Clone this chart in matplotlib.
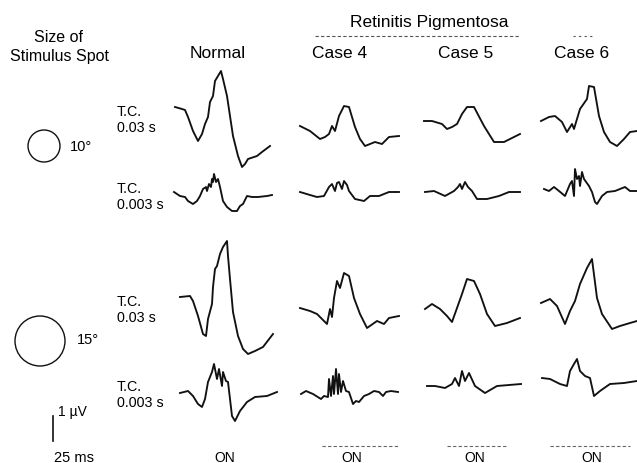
import matplotlib
matplotlib.use("Agg")
import matplotlib.pyplot as plt
from matplotlib.patches import Circle

plt.rcParams["font.family"] = ["Liberation Sans", "DejaVu Sans"]

# ERG traces: time (ms from sweep start) and amplitude (uV)
normal_10_slow_t = [5, 12, 15, 18, 23, 28, 32, 35, 38, 40, 43, 45, 48, 51, 53, 57, 60, 63, 68, 72, 75, 78, 87, 92, 100]
normal_10_slow_v = [0.68, 0.60, 0.56, 0.28, -0.28, -0.68, -0.40, 0.0, 0.28, 0.88, 1.12, 1.72, 1.92, 2.12, 1.80, 1.12,
                    0.32, -0.48, -1.28, -1.72, -1.60, -1.40, -1.28, -1.12, -0.88]
normal_10_fast_t = [4, 10, 15, 18, 23, 27, 30, 33, 36, 37, 39, 41, 42, 43, 44, 46, 48, 50, 53, 57, 62, 67, 70, 73, 77,
                    82, 88, 97, 102]
normal_10_fast_v = [0.08, -0.08, -0.12, -0.28, -0.4, -0.28, -0.08, 0.2, 0.28, 0.12, 0.4, 0.28, 0.6, 0.48, 0.8, 0.48,
                    0.6, 0.28, -0.28, -0.52, -0.68, -0.68, -0.48, -0.4, -0.08, -0.12, -0.12, -0.08, -0.04]
normal_15_slow_t = [10, 20, 23, 28, 33, 36, 38, 42, 43, 45, 47, 50, 53, 57, 58, 60, 63, 68, 73, 78, 85, 93, 103]
normal_15_slow_v = [0.56, 0.6, 0.4, -0.2, -0.92, -1.0, -0.32, 0.28, 0.96, 1.68, 1.8, 2.28, 2.56, 2.8, 2.2, 1.28, -0.04,
                    -1.0, -1.52, -1.72, -1.6, -1.44, -0.92]
normal_15_fast_t = [10, 18, 23, 28, 32, 35, 38, 42, 44, 47, 49, 52, 53, 56, 58, 62, 65, 70, 77, 85, 97, 107]
normal_15_fast_v = [-0.16, -0.08, -0.28, -0.6, -0.72, -0.4, 0.28, 0.68, 1.0, 0.4, 0.8, 0.12, 0.68, 0.32, 0.28, -1.08,
                    -1.28, -0.88, -0.52, -0.32, -0.28, -0.12]

case4_10_slow_t = [4, 14, 24, 29, 33, 36, 39, 43, 48, 53, 59, 64, 69, 79, 86, 93, 103]
case4_10_slow_v = [-0.08, -0.28, -0.6, -0.52, -0.4, -0.08, -0.28, 0.32, 0.72, 0.68, -0.12, -0.6, -0.88, -0.72, -0.8,
                   -0.52, -0.48]
case4_10_fast_t = [4, 14, 21, 28, 33, 36, 39, 41, 43, 46, 48, 51, 53, 59, 68, 74, 83, 93, 103]
case4_10_fast_v = [0.08, -0.04, -0.12, -0.08, 0.28, 0.4, 0.12, 0.44, 0.48, 0.2, 0.52, 0.36, 0.12, -0.2, -0.28, -0.08,
                   -0.08, 0.08, 0.08]
case4_15_slow_t = [4, 14, 21, 31, 34, 36, 38, 41, 44, 48, 53, 58, 64, 71, 81, 88, 93, 103]
case4_15_slow_v = [0.12, 0.0, -0.12, -0.52, 0.08, -0.24, 0.52, 1.2, 0.92, 1.52, 1.4, 0.52, -0.12, -0.68, -0.4, -0.52,
                   -0.28, -0.2]
case4_15_fast_t = [5, 10, 17, 25, 28, 32, 33, 35, 37, 38, 40, 42, 43, 45, 47, 50, 53, 57, 60, 63, 68, 73, 78, 83, 87,
                   90, 95, 102]
case4_15_fast_v = [-0.2, -0.08, -0.2, -0.4, -0.28, -0.32, 0.4, -0.28, 0.52, -0.2, 0.8, -0.2, 0.6, -0.12, 0.32, -0.08,
                   -0.12, -0.6, -0.48, -0.52, -0.28, -0.2, -0.08, -0.12, -0.28, -0.12, -0.08, -0.12]

case5_10_slow_t = [4, 12, 22, 27, 32, 37, 42, 47, 54, 64, 74, 84, 100]
case5_10_slow_v = [0.12, 0.12, 0.0, -0.2, -0.12, 0.0, 0.4, 0.68, 0.68, -0.08, -0.72, -0.72, -0.4]
case5_10_fast_t = [5, 14, 25, 34, 38, 40, 42, 45, 48, 52, 57, 67, 79, 89, 100]
case5_10_fast_v = [0.08, 0.12, -0.08, 0.12, 0.28, 0.4, 0.2, 0.48, 0.28, 0.12, -0.2, -0.2, -0.08, 0.08, 0.08]
case5_15_slow_t = [5, 12, 20, 27, 32, 37, 42, 47, 54, 60, 67, 75, 87, 100]
case5_15_slow_v = [0.08, 0.28, 0.08, -0.2, -0.44, 0.12, 0.68, 1.28, 1.2, 0.68, -0.12, -0.6, -0.48, -0.28]
case5_15_fast_t = [7, 15, 25, 32, 35, 39, 42, 45, 49, 55, 65, 77, 89, 101]
case5_15_fast_v = [0.12, 0.12, 0.04, 0.2, 0.44, 0.12, 0.72, 0.32, 0.64, 0.12, -0.16, 0.12, 0.16, 0.2]

case6_10_slow_t = [4, 12, 18, 25, 30, 35, 37, 43, 50, 52, 57, 62, 67, 73, 80, 87, 93, 100]
case6_10_slow_v = [0.12, 0.28, 0.32, 0.08, -0.32, 0.0, -0.2, 0.6, 1.0, 1.52, 1.48, 0.32, -0.32, -0.72, -0.88, -0.6,
                   -0.32, -0.28]
case6_10_fast_t = [7, 12, 17, 22, 28, 33, 35, 37, 38, 40, 42, 43, 45, 47, 52, 55, 58, 60, 65, 70, 78, 83, 88, 93, 100]
case6_10_fast_v = [0.2, 0.12, 0.28, 0.12, -0.08, 0.4, 0.52, -0.08, 1.0, 0.6, 0.72, 0.32, 0.88, 0.6, 0.32, 0.08, -0.32,
                   -0.4, -0.08, 0.08, 0.12, 0.2, 0.28, 0.12, 0.12]
case6_15_slow_t = [4, 13, 20, 28, 33, 38, 43, 50, 55, 60, 65, 75, 83, 93, 100]
case6_15_slow_v = [0.32, 0.48, 0.2, -0.52, 0.0, 0.4, 1.08, 1.72, 2.08, 0.52, -0.12, -0.72, -0.6, -0.48, -0.4]
case6_15_fast_t = [5, 13, 23, 30, 33, 37, 40, 43, 48, 53, 57, 63, 73, 87, 100]
case6_15_fast_v = [0.44, 0.4, 0.2, 0.12, 0.72, 1.0, 1.2, 0.72, 0.52, 0.44, -0.28, -0.08, 0.2, 0.24, 0.32]

column_titles = ["Normal", "Case 4", "Case 5", "Case 6"]
spot_labels = ["10°", "15°"]
tc_labels = ["T.C.\n0.03 s", "T.C.\n0.003 s", "T.C.\n0.03 s", "T.C.\n0.003 s"]

traces = [
    [(normal_10_slow_t, normal_10_slow_v), (case4_10_slow_t, case4_10_slow_v),
     (case5_10_slow_t, case5_10_slow_v), (case6_10_slow_t, case6_10_slow_v)],
    [(normal_10_fast_t, normal_10_fast_v), (case4_10_fast_t, case4_10_fast_v),
     (case5_10_fast_t, case5_10_fast_v), (case6_10_fast_t, case6_10_fast_v)],
    [(normal_15_slow_t, normal_15_slow_v), (case4_15_slow_t, case4_15_slow_v),
     (case5_15_slow_t, case5_15_slow_v), (case6_15_slow_t, case6_15_slow_v)],
    [(normal_15_fast_t, normal_15_fast_v), (case4_15_fast_t, case4_15_fast_v),
     (case5_15_fast_t, case5_15_fast_v), (case6_15_fast_t, case6_15_fast_v)],
]

W, H = 637, 464
fig = plt.figure(figsize=(W / 100, H / 100), dpi=100)

# layout in pixels: 1 ms = 1 px, 1 uV = 25 px
col_x0 = [170, 296, 420, 537]
row_base = [125, 195, 312, 390]
sweep_ms = 110
half_range_uv = 3.0
px_per_uv = 25

for r, base in enumerate(row_base):
    for c, x0 in enumerate(col_x0):
        t, v = traces[r][c]
        h = 2 * half_range_uv * px_per_uv
        axp = fig.add_axes([x0 / W, 1 - (base + h / 2) / H, sweep_ms / W, h / H])
        axp.plot(t, v, color="#111111", lw=1.35, solid_joinstyle="round")
        axp.set_xlim(0, sweep_ms)
        axp.set_ylim(-half_range_uv, half_range_uv)
        axp.axis("off")

# overlay in pixel coordinates for labels and decorations
ax = fig.add_axes([0, 0, 1, 1], zorder=-1)
ax.set_xlim(0, W)
ax.set_ylim(H, 0)
ax.axis("off")

ax.text(58, 38, "Size of", ha="center", va="center", fontsize=11.5)
ax.text(60, 57, "Stimulus Spot", ha="center", va="center", fontsize=11.5)
ax.text(429, 22, "Retinitis Pigmentosa", ha="center", va="center", fontsize=12.5)
for x, title in zip([218, 340, 466, 582], column_titles):
    ax.text(x, 54, title, ha="center", va="center", fontsize=12.5)

# faint bracket under the group title
ax.plot([315, 520], [37, 37], color="#555555", lw=0.8, ls=(0, (3, 2)))
ax.plot([573, 592], [37, 37], color="#555555", lw=0.8, ls=(0, (2, 3)))

for y, label in zip([120, 197, 310, 395], tc_labels):
    ax.text(117, y, label, ha="left", va="center", fontsize=10.3, linespacing=1.15)

ax.add_patch(Circle((44, 147), 16, fill=False, lw=1.0, ec="#111111"))
ax.text(70, 147, spot_labels[0], ha="left", va="center", fontsize=10.5)
ax.add_patch(Circle((40, 342), 25, fill=False, lw=1.0, ec="#111111"))
ax.text(77, 340, spot_labels[1], ha="left", va="center", fontsize=10.5)

# calibration
ax.plot([53, 53], [417, 442], color="#111111", lw=1.2)
ax.text(58, 412, "1 µV", ha="left", va="center", fontsize=10)
ax.text(54, 458, "25 ms", ha="left", va="center", fontsize=10.5)

# stimulus markers
for x0, x1 in [(322, 398), (447, 507), (550, 630)]:
    ax.plot([x0, x1], [447, 447], color="#666666", lw=0.8, ls=(0, (3, 2)))
for x in [225, 352, 475, 592]:
    ax.text(x, 458, "ON", ha="center", va="center", fontsize=10)

fig.savefig("out.png", dpi=100)
